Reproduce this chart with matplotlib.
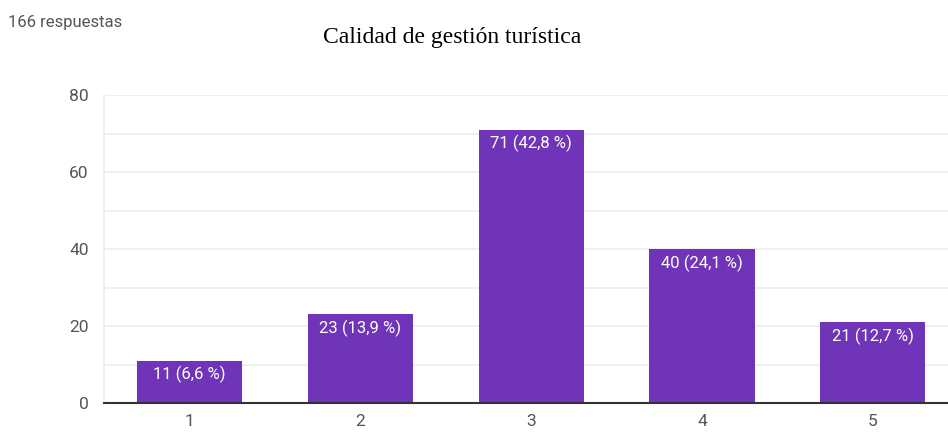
import matplotlib.pyplot as plt

categorias = ["1", "2", "3", "4", "5"]
respuestas = [11, 23, 71, 40, 21]
etiquetas = ["11 (6,6 %)", "23 (13,9 %)", "71 (42,8 %)", "40 (24,1 %)", "21 (12,7 %)"]
ticks_y = [0, 20, 40, 60, 80]
ticks_menores = [10, 30, 50, 70]

plt.rcParams['font.family'] = ['Roboto', 'DejaVu Sans']

fig = plt.figure(figsize=(9.48, 4.32), dpi=100)
ax = fig.add_axes([104 / 948, 1 - 403 / 432, 1 - 104 / 948, (403 - 95) / 432])

x = list(range(len(categorias)))
ax.bar(x, respuestas, width=0.615, color='#6f34b7', zorder=3)

for xi, v, lab in zip(x, respuestas, etiquetas):
    ax.annotate(lab, (xi, v), xytext=(0, -4), textcoords='offset points',
                ha='center', va='top', color='white', fontsize=12, zorder=4)

ax.set_xlim(-0.5, 4.44)
ax.set_ylim(0, 80)
ax.set_yticks(ticks_y)
ax.set_yticks(ticks_menores, minor=True)
ax.set_xticks(x)
ax.set_xticklabels(categorias)
ax.grid(axis='y', which='both', color='#eeeeee', linewidth=1.2, zorder=0)
ax.tick_params(axis='both', which='both', length=0, labelsize=12.5, colors='#555555')
ax.tick_params(axis='x', pad=8)
ax.tick_params(axis='y', pad=11)

for s in ['top', 'right']:
    ax.spines[s].set_visible(False)
ax.spines['left'].set_color('#eeeeee')
ax.spines['left'].set_linewidth(1.2)
ax.spines['bottom'].set_color('#333333')
ax.spines['bottom'].set_linewidth(1.5)
ax.spines['bottom'].set_zorder(5)

fig.text(8 / 948, 1 - 22 / 432, "166 respuestas", fontsize=12, color='#555555',
         va='center', ha='left')
fig.text(452 / 948, 1 - 37 / 432, "Calidad de gestión turística", fontsize=17,
         family='Liberation Serif', color='black', va='center', ha='center')

fig.savefig('out.png', dpi=100)
